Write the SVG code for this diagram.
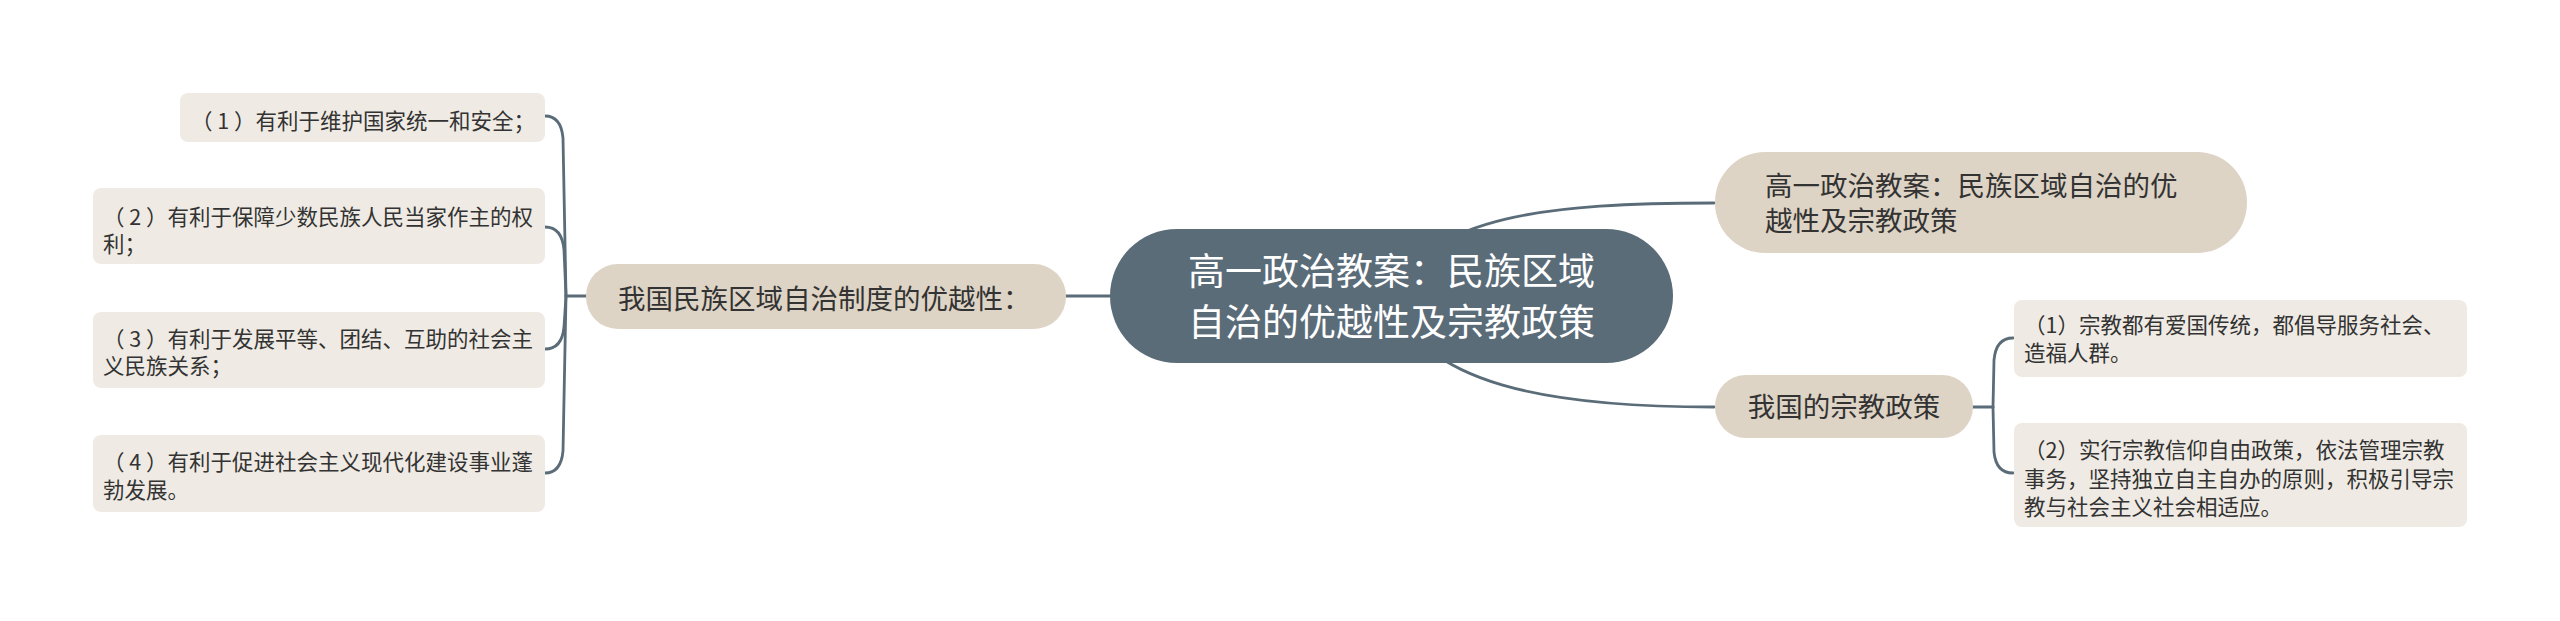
<svg xmlns="http://www.w3.org/2000/svg" width="2560" height="621" viewBox="0 0 2560 621">
<style>
text{font-family:"Noto Sans CJK SC","Noto Sans",sans-serif;fill:#333333}
.conn{fill:none;stroke:#5b6c79;stroke-width:2.8;stroke-linecap:round}
.root{fill:#5b6c79}
.mid{fill:#ded4c5}
.leaf{fill:#efebe4}
.t-root{font-size:37px;fill:#ffffff}
.t-mid{font-size:27.5px}
.t-leaf{font-size:21.5px}
</style>
<rect x="0" y="0" width="2560" height="621" fill="#ffffff"/>
<g id="connectors">
<path class="conn" d="M 1391 296 C 1430 215, 1550 203, 1714 203"/>
<path class="conn" d="M 1391 296 C 1420 385, 1550 407, 1714 407"/>
<path class="conn" d="M 1110 296 H 1066"/>
<path class="conn" d="M 586 296 H 566"/>
<path class="conn" d="M 566 296 L 563 138 Q 561 116 545 116"/>
<path class="conn" d="M 566 296 L 564 250 Q 562 227 545 227"/>
<path class="conn" d="M 566 296 L 564 327 Q 562 349 545 349"/>
<path class="conn" d="M 566 296 L 563 451 Q 561 473 545 473"/>
<path class="conn" d="M 1973 407 H 1993"/>
<path class="conn" d="M 1993 407 L 1994 360 Q 1996 338 2013 338"/>
<path class="conn" d="M 1993 407 L 1994 452 Q 1996 473 2013 473"/>
</g>
<g id="root">
<rect class="root" x="1110" y="229" width="563" height="134" rx="67"/>
<text class="t-root" x="1391.5" y="285" text-anchor="middle">高一政治教案：民族区域</text>
<text class="t-root" x="1391.5" y="336" text-anchor="middle">自治的优越性及宗教政策</text>
</g>
<g id="node-right-title">
<rect class="mid" x="1715" y="152" width="532" height="101" rx="50"/>
<text class="t-mid" x="1765" y="195.5">高一政治教案：民族区域自治的优</text>
<text class="t-mid" x="1765" y="231">越性及宗教政策</text>
</g>
<g id="node-religion">
<rect class="mid" x="1715" y="375" width="258" height="63" rx="31"/>
<text class="t-mid" x="1844" y="417" text-anchor="middle">我国的宗教政策</text>
</g>
<g id="node-autonomy">
<rect class="mid" x="586" y="264" width="480" height="65" rx="32"/>
<text class="t-mid" x="618" y="309">我国民族区域自治制度的优越性：</text>
</g>
<g id="leaf-l1">
<rect class="leaf" x="180" y="93" width="365" height="49" rx="8"/>
<text class="t-leaf" x="191" y="129" xml:space="preserve">（ 1 ）有利于维护国家统一和安全；</text>
</g>
<g id="leaf-l2">
<rect class="leaf" x="93" y="188" width="452" height="76" rx="8"/>
<text class="t-leaf" x="103" y="224.5" xml:space="preserve">（ 2 ）有利于保障少数民族人民当家作主的权</text>
<text class="t-leaf" x="103" y="252">利；</text>
</g>
<g id="leaf-l3">
<rect class="leaf" x="93" y="312" width="452" height="76" rx="8"/>
<text class="t-leaf" x="103" y="346.5" xml:space="preserve">（ 3 ）有利于发展平等、团结、互助的社会主</text>
<text class="t-leaf" x="103" y="374">义民族关系；</text>
</g>
<g id="leaf-l4">
<rect class="leaf" x="93" y="435" width="452" height="77" rx="8"/>
<text class="t-leaf" x="103" y="470" xml:space="preserve">（ 4 ）有利于促进社会主义现代化建设事业蓬</text>
<text class="t-leaf" x="103" y="498">勃发展。</text>
</g>
<g id="leaf-r1">
<rect class="leaf" x="2014" y="300" width="453" height="77" rx="8"/>
<text class="t-leaf" x="2024" y="333">（1）宗教都有爱国传统，都倡导服务社会、</text>
<text class="t-leaf" x="2024" y="361">造福人群。</text>
</g>
<g id="leaf-r2">
<rect class="leaf" x="2014" y="423" width="453" height="104" rx="8"/>
<text class="t-leaf" x="2024" y="458">（2）实行宗教信仰自由政策，依法管理宗教</text>
<text class="t-leaf" x="2024" y="486.5">事务，坚持独立自主自办的原则，积极引导宗</text>
<text class="t-leaf" x="2024" y="515">教与社会主义社会相适应。</text>
</g>
</svg>
